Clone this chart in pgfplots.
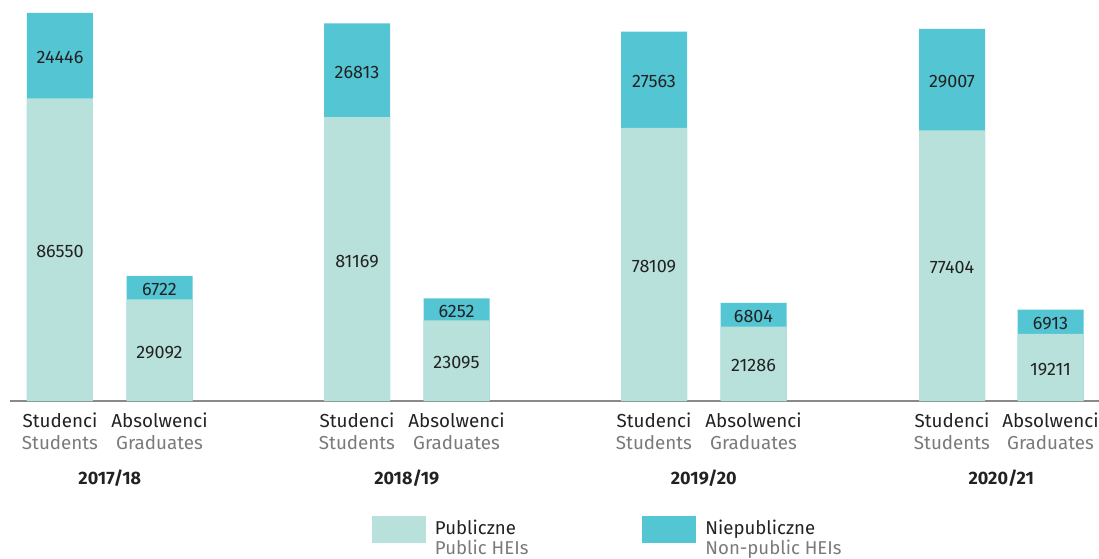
\documentclass[border=0pt]{standalone}
\usepackage{fontspec}
\setmainfont{Fira Sans}
\usepackage{pgfplots}
\pgfplotsset{compat=1.18}
\usepackage{pgfplotstable}
\definecolor{pub}{HTML}{B7E1DA}
\definecolor{npub}{HTML}{54C5D3}
\definecolor{lab}{HTML}{7A7A7A}
\definecolor{ink}{HTML}{222222}
\definecolor{axisgray}{HTML}{8A8A8A}

% x = bar centre (px of the reference), pub = public HEIs, np = non-public HEIs
\pgfplotstableread{
x      pub    np
60     86550  24446
159.5  29092  6722
357    81169  26813
456.5  23095  6252
654    78109  27563
753.5  21286  6804
952    77404  29007
1050.5 19211  6913
}\data

\begin{document}
\begin{tikzpicture}[font=\fontsize{9}{11}\selectfont]
  \begin{axis}[
    at={(5pt,78.5pt)}, anchor=south west,
    scale only axis,
    width=544.5pt, height=200.5pt,
    xmin=10, xmax=1099,
    ymin=0, ymax=114700,
    clip=false,
    axis y line=none,
    axis x line*=bottom,
    x axis line style={-, draw=axisgray, line width=1pt},
    xtick={60,159.5,357,456.5,654,753.5,952,1050.5},
    xticklabels={
      {Studenci\\\textcolor{lab}{Students}},
      {Absolwenci\\\textcolor{lab}{Graduates}},
      {Studenci\\\textcolor{lab}{Students}},
      {Absolwenci\\\textcolor{lab}{Graduates}},
      {Studenci\\\textcolor{lab}{Students}},
      {Absolwenci\\\textcolor{lab}{Graduates}},
      {Studenci\\\textcolor{lab}{Students}},
      {Absolwenci\\\textcolor{lab}{Graduates}}},
    x tick label style={align=center, text=ink, yshift=-2.5pt,
      font=\fontsize{9.4}{11}\selectfont},
    major tick length=0pt,
    legend columns=2,
    legend style={
      at={(0.3324,-0.2868)}, anchor=north west,
      draw=none, fill=none, inner sep=0pt, outer sep=0pt,
      nodes={inner sep=0pt, align=left, text=ink, font=\fontsize{9.3}{10}\selectfont},
      /tikz/every odd column/.append style={column sep=4.5pt},
      /tikz/every even column/.append style={column sep=57pt},
    },
    legend cell align=left,
    legend image code/.code={\fill[#1, draw=none] (0pt,-2pt) rectangle (27pt,11.5pt);},
    every node near coord/.append style={anchor=center, text=ink, yshift=-1pt,
      font=\fontsize{9}{11}\selectfont},
  ]
    % totals (non-public on top), then public over them
    \addplot[ybar, bar width=33pt, bar shift=0pt, fill=npub, draw=none, forget plot]
      table[x=x, y expr=\thisrow{pub}+\thisrow{np}] {\data};
    \addplot[ybar, bar width=33pt, bar shift=0pt, fill=pub, draw=none, forget plot]
      table[x=x, y=pub] {\data};

    % value labels
    \addplot[draw=none, mark=none, forget plot, nodes near coords, point meta=explicit symbolic]
      table[x=x, y expr=\thisrow{pub}/2, meta=pub] {\data};
    \addplot[draw=none, mark=none, forget plot, nodes near coords, point meta=explicit symbolic]
      table[x=x, y expr=\thisrow{pub}+\thisrow{np}/2, meta=np] {\data};

    % legend entries
    \addlegendimage{fill=pub, draw=none}
    \addlegendentry{Publiczne\\\textcolor{lab}{Public HEIs}}
    \addlegendimage{fill=npub, draw=none}
    \addlegendentry{Niepubliczne\\\textcolor{lab}{Non-public HEIs}}

    % year labels
    \node[font=\bfseries\fontsize{9}{11}\selectfont, text=ink] at (axis cs:109.75,-22024) {2017/18};
    \node[font=\bfseries\fontsize{9}{11}\selectfont, text=ink] at (axis cs:406.75,-22024) {2018/19};
    \node[font=\bfseries\fontsize{9}{11}\selectfont, text=ink] at (axis cs:703.75,-22024) {2019/20};
    \node[font=\bfseries\fontsize{9}{11}\selectfont, text=ink] at (axis cs:1001.25,-22024) {2020/21};
  \end{axis}
  \pgfresetboundingbox
  \useasboundingbox (0,0) rectangle (549.5pt,279pt);
\end{tikzpicture}
\end{document}
